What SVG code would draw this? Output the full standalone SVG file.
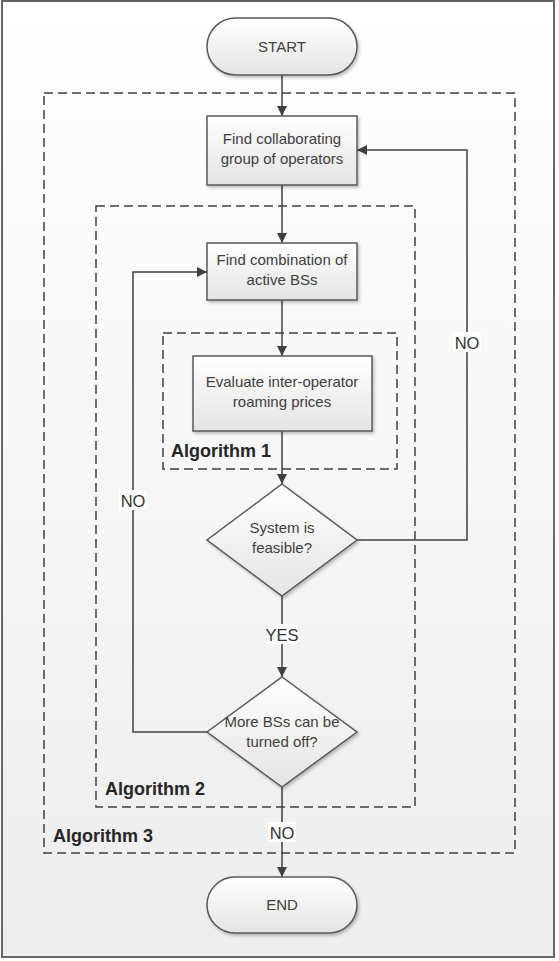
<svg xmlns="http://www.w3.org/2000/svg" width="559" height="961" viewBox="0 0 559 961">
<defs>
<linearGradient id="bg" x1="0" y1="0" x2="0" y2="1">
<stop offset="0" stop-color="#ffffff"/>
<stop offset="1" stop-color="#ededed"/>
</linearGradient>
<linearGradient id="shape" x1="0" y1="0" x2="0" y2="1">
<stop offset="0" stop-color="#ffffff"/>
<stop offset="1" stop-color="#e4e4e4"/>
</linearGradient>
<filter id="sh" x="-10%" y="-10%" width="130%" height="130%">
<feDropShadow dx="1.5" dy="2" stdDeviation="1.5" flood-color="#000" flood-opacity="0.25"/>
</filter>
<marker id="arr" viewBox="0 0 10 10" refX="10" refY="5" markerWidth="10" markerHeight="10" markerUnits="userSpaceOnUse" orient="auto">
<path d="M0,0 L10,5 L0,10 Z" fill="#404040"/>
</marker>
<style>
.node{fill:url(#shape);stroke:#595959;stroke-width:1.5;filter:url(#sh)}
.t{font-family:"Liberation Sans",Arial,sans-serif;font-size:15px;fill:#404040;text-anchor:middle}
.grp{fill:none;stroke:#404040;stroke-width:1.5;stroke-dasharray:9 5}
.gl{font-family:"Liberation Sans",Arial,sans-serif;font-size:18px;font-weight:bold;fill:#262626}
.c{fill:none;stroke:#404040;stroke-width:1.5}
.lb{font-family:"Liberation Sans",Arial,sans-serif;font-size:16.5px;fill:#333;text-anchor:middle}
.lbg{fill:#ffffff;stroke:none}
</style>
</defs>
<rect x="2" y="1" width="552" height="956" fill="url(#bg)" stroke="#666" stroke-width="2"/>

<g id="groups">
<rect class="grp" x="44" y="93" width="471" height="760"/>
<rect class="grp" x="96" y="206" width="319" height="601"/>
<rect class="grp" x="163" y="333" width="234" height="136"/>
<text class="gl" x="171" y="457">Algorithm 1</text>
<text class="gl" x="105" y="795">Algorithm 2</text>
<text class="gl" x="53" y="842">Algorithm 3</text>
</g>

<g id="connectors">
<path class="c" d="M282,75 V116" marker-end="url(#arr)"/>
<path class="c" d="M282,185 V243" marker-end="url(#arr)"/>
<path class="c" d="M282,300 V356" marker-end="url(#arr)"/>
<path class="c" d="M282,431 V484" marker-end="url(#arr)"/>
<path class="c" d="M282,596 V677" marker-end="url(#arr)"/>
<path class="c" d="M357,540 H467 V150 H357" marker-end="url(#arr)"/>
<path class="c" d="M207,732 H133 V272 H207" marker-end="url(#arr)"/>
<path class="c" d="M282,787 V877" marker-end="url(#arr)"/>
<rect class="lbg" x="267" y="624" width="31" height="20"/>
<text class="lb" x="282" y="641">YES</text>
<rect class="lbg" x="453" y="332" width="28" height="20"/>
<text class="lb" x="467" y="349">NO</text>
<rect class="lbg" x="119" y="490" width="28" height="20"/>
<text class="lb" x="133" y="507">NO</text>
<rect class="lbg" x="268" y="822" width="28" height="20"/>
<text class="lb" x="282" y="839">NO</text>
</g>

<g id="start">
<rect class="node" x="207" y="18" width="150" height="57" rx="28.5"/>
<text class="t" x="282" y="52">START</text>
</g>
<g id="find-group">
<rect class="node" x="207" y="116" width="150" height="69"/>
<text class="t" x="282" y="144">Find collaborating</text>
<text class="t" x="282" y="164">group of operators</text>
</g>
<g id="find-combination">
<rect class="node" x="207" y="243" width="150" height="57"/>
<text class="t" x="282" y="265">Find combination of</text>
<text class="t" x="282" y="285">active BSs</text>
</g>
<g id="evaluate">
<rect class="node" x="193" y="356" width="179" height="75"/>
<text class="t" x="282" y="387">Evaluate inter-operator</text>
<text class="t" x="282" y="407">roaming prices</text>
</g>
<g id="feasible">
<polygon class="node" points="282,484 357,540 282,596 207,540"/>
<text class="t" x="282" y="533">System is</text>
<text class="t" x="282" y="553">feasible?</text>
</g>
<g id="more-bs">
<polygon class="node" points="282,677 357,732 282,787 207,732"/>
<text class="t" x="282" y="727">More BSs can be</text>
<text class="t" x="282" y="747">turned off?</text>
</g>
<g id="end">
<rect class="node" x="207" y="877" width="150" height="56" rx="28"/>
<text class="t" x="282" y="910">END</text>
</g>
</svg>
